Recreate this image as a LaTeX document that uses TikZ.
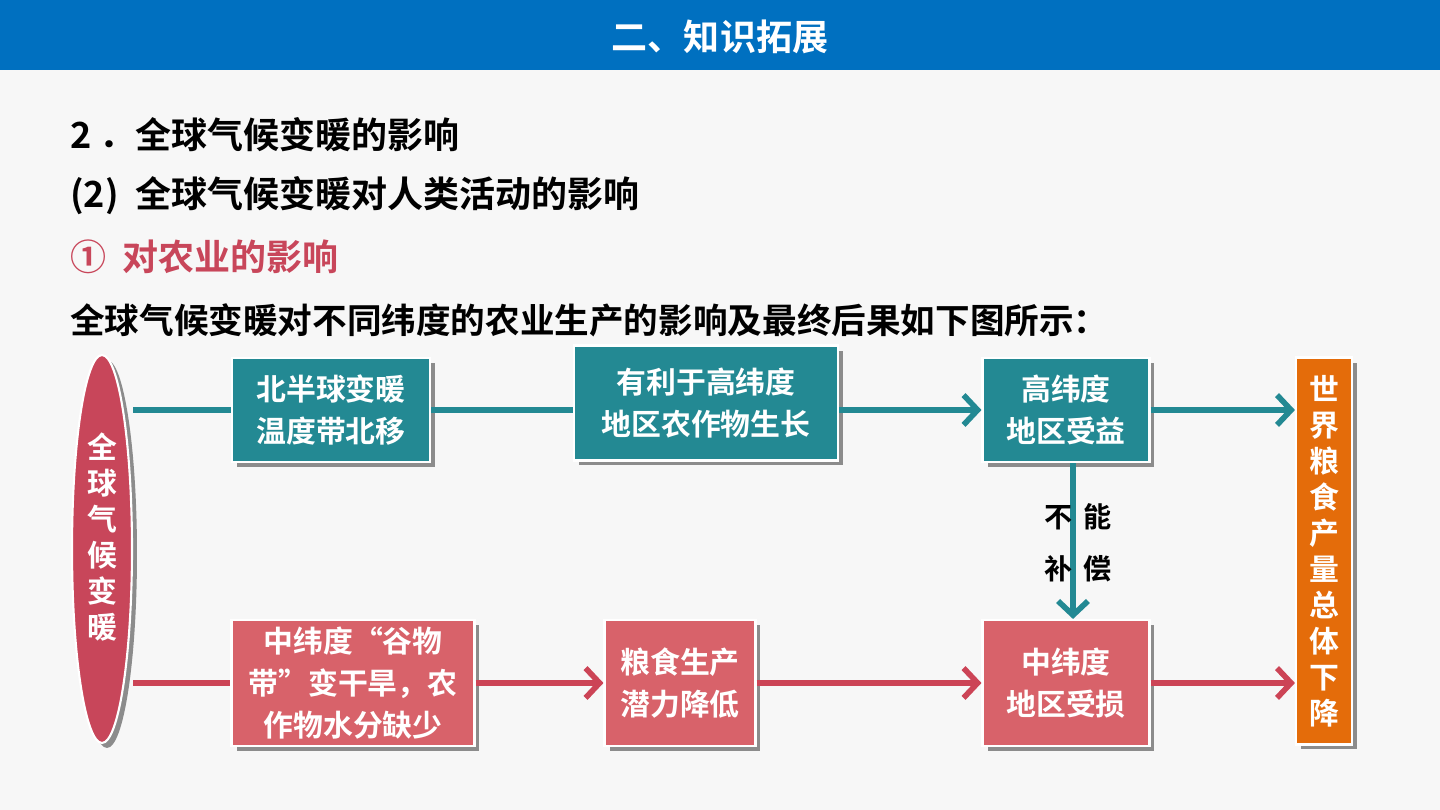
\documentclass[tikz,border=0pt]{standalone}
\usepackage{fontspec}
\setmainfont{Noto Sans CJK SC}[BoldFont={Noto Sans CJK SC Bold}]
\usepackage{tikz}
\usetikzlibrary{arrows.meta,positioning,shadows,shapes.geometric}
\usepackage{xcolor}
\definecolor{headblue}{RGB}{0,112,192}
\definecolor{paper}{RGB}{247,247,247}
\definecolor{boxteal}{RGB}{35,137,147}
\definecolor{boxred}{RGB}{216,98,106}
\definecolor{ovalred}{RGB}{200,70,90}
\definecolor{boxorange}{RGB}{228,108,10}
\definecolor{linered}{RGB}{204,68,86}

\begin{document}
\begin{tikzpicture}[x=0.02cm,y=-0.02cm,
    flowbox/.style={draw=white,line width=1.2pt,text=white,align=center,
      font=\bfseries\fontsize{17}{24}\selectfont,
      drop shadow={shadow xshift=0.1cm,shadow yshift=-0.1cm,fill=black!45,opacity=1}},
    tealline/.style={boxteal,line width=3.2pt},
    redline/.style={linered,line width=3.2pt},
    tip/.style={-{Straight Barb[length=8pt,width=17pt,line width=3.2pt]}}]
    % Page
    \useasboundingbox (0,0) rectangle (1440,810);
    \fill[paper] (0,0) rectangle (1440,810);
    \fill[headblue] (0,0) rectangle (1440,70);
    \node[text=white,font=\bfseries\fontsize{20.5}{24}\selectfont] (title) at (720,37) {二、知识拓展};
    % Heading lines
    \node[anchor=west,font=\bfseries\fontsize{20.5}{24}\selectfont] (h1) at (64,135) {2 ．全球气候变暖的影响};
    \node[anchor=west,font=\bfseries\fontsize{20.5}{24}\selectfont] (h2) at (64,196) {(2)\ \ 全球气候变暖对人类活动的影响};
    \node[anchor=west,text=ovalred,font=\bfseries\fontsize{20.5}{24}\selectfont] (h3) at (64,257) {①\ \ 对农业的影响};
    \node[anchor=west,font=\bfseries\fontsize{19.7}{24}\selectfont] (h4) at (64,320) {全球气候变暖对不同纬度的农业生产的影响及最终后果如下图所示：};
    % Boxes
    \node[ellipse,fill=ovalred,minimum width=1.2cm,minimum height=7.76cm,flowbox,inner sep=0pt,
      font=\bfseries\fontsize{17}{20.5}\selectfont] (glob) at (102,549) {全\\球\\气\\候\\变\\暖\\[-0.2cm]};
    \node[flowbox,fill=boxteal,minimum width=3.96cm,minimum height=2.08cm] (north) at (331,410) {北半球变暖\\温度带北移};
    \node[flowbox,fill=boxteal,minimum width=5.28cm,minimum height=2.3cm] (favor) at (706,403) {有利于高纬度\\地区农作物生长};
    \node[flowbox,fill=boxteal,minimum width=3.34cm,minimum height=2.08cm] (gain) at (1066,410) {高纬度\\地区受益};
    \node[flowbox,fill=boxorange,minimum width=1.12cm,minimum height=7.74cm,inner sep=0pt,
      font=\bfseries\fontsize{17}{20.5}\selectfont] (world) at (1324,551) {世\\界\\粮\\食\\产\\量\\总\\体\\下\\降};
    \node[flowbox,fill=boxred,minimum width=4.86cm,minimum height=2.52cm] (belt) at (353,683) {中纬度“谷物\\带”变干旱，农\\作物水分缺少};
    \node[flowbox,fill=boxred,minimum width=3.02cm,minimum height=2.52cm] (yield) at (680,683) {粮食生产\\潜力降低};
    \node[flowbox,fill=boxred,minimum width=3.34cm,minimum height=2.52cm] (loss) at (1066,683) {中纬度\\地区受损};
    % Upper chain
    \draw[tealline] (north.west -| glob.east) -- (north.west);
    \draw[tealline] (north.east) -- (north.east -| favor.west);
    \draw[tealline,tip] (gain.west -| favor.east) -- (gain.west);
    \draw[tealline,tip] (gain.east) -- (gain.east -| world.west);
    \draw[tealline,tip] ([xshift=0.14cm]gain.south) -- ([xshift=0.14cm]loss.north);
    \node[font=\bfseries\fontsize{16}{18}\selectfont] (lab1) at (1078,517) {不\hspace{0.22cm}能};
    \node[font=\bfseries\fontsize{16}{18}\selectfont] (lab2) at (1078,569) {补\hspace{0.22cm}偿};
    % Lower chain
    \draw[redline] (belt.west -| glob.east) -- (belt.west);
    \draw[redline,tip] (belt.east) -- (yield.west);
    \draw[redline,tip] (yield.east) -- (loss.west);
    \draw[redline,tip] (loss.east) -- (loss.east -| world.west);
  \end{tikzpicture}
\end{document}
